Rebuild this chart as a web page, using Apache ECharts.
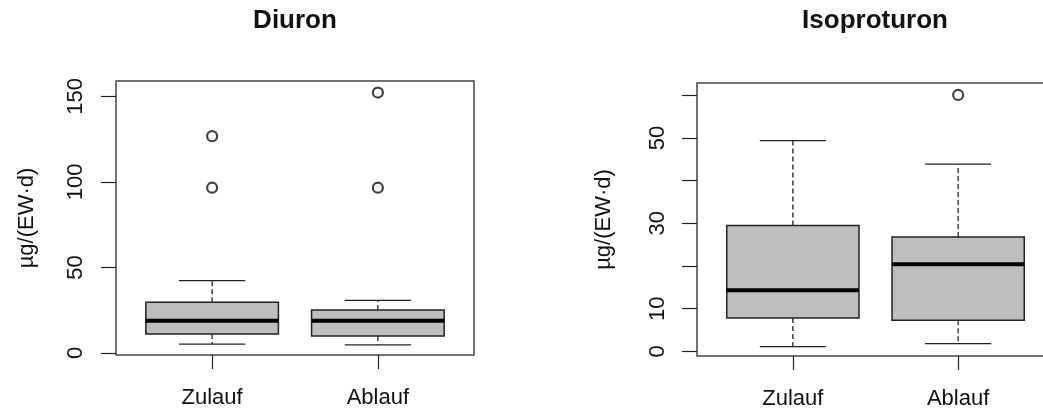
<!DOCTYPE html>
<html>
<head>
<meta charset="utf-8">
<script src="https://cdn.jsdelivr.net/npm/echarts@6.0.0/dist/echarts.min.js"></script>
<style>
  html, body { margin: 0; padding: 0; background: #fff; }
  #chart { width: 1043px; height: 408px; }
</style>
</head>
<body>
<div id="chart"></div>
<script>
// ---------- data ----------
const categories = ['Zulauf', 'Ablauf'];
const panelTitles = ['Diuron', 'Isoproturon'];
const yAxisTitle = 'µg/(EW·d)';

// [lower whisker, Q1, median, Q3, upper whisker]
const diuronZulauf = [5.2, 11.1, 18.8, 29.7, 42.3];
const diuronAblauf = [4.7, 9.9, 18.8, 25.2, 30.7];
const diuronOutZulauf = [126.7, 96.6];
const diuronOutAblauf = [152.2, 96.6];

const isoZulauf = [1.1, 7.8, 14.3, 29.5, 49.4];
const isoAblauf = [1.8, 7.3, 20.4, 26.8, 43.9];
const isoOutZulauf = [];
const isoOutAblauf = [60.1];

const diuronTicks = [0, 50, 100, 150];
const diuronTickLabels = ['0', '50', '100', '150'];
const isoTicks = [0, 10, 20, 30, 40, 50, 60];
const isoTickLabels = ['0', '10', '', '30', '', '50', ''];

// ---------- helpers ----------
const FONT = '"Liberation Sans", Arial, sans-serif';
const INK = '#111';

function boxData(stats) {
  return stats.map((s, i) => [i + 1].concat(s));
}
function outlierData(lists) {
  const out = [];
  lists.forEach((l, i) => l.forEach(v => out.push([i + 1, v])));
  return out;
}

function renderBox(params, api) {
  const x = api.value(0);
  const lo = api.value(1), q1 = api.value(2), med = api.value(3), q3 = api.value(4), hi = api.value(5);
  const hw = 0.4, cw = 0.2;
  const c = (a, b) => api.coord([a, b]);
  const pTL = c(x - hw, q3), pBR = c(x + hw, q1);
  const whisk = { stroke: '#222', lineWidth: 1.3, lineDash: [5, 3] };
  const solid = { stroke: '#222', lineWidth: 1.3 };
  const line = (p1, p2, style) => ({
    type: 'line',
    shape: { x1: p1[0], y1: p1[1], x2: p2[0], y2: p2[1] },
    style: style
  });
  return {
    type: 'group',
    children: [
      line(c(x, q3), c(x, hi), whisk),
      line(c(x, q1), c(x, lo), whisk),
      line(c(x - cw, hi), c(x + cw, hi), solid),
      line(c(x - cw, lo), c(x + cw, lo), solid),
      {
        type: 'rect',
        shape: { x: pTL[0], y: pTL[1], width: pBR[0] - pTL[0], height: pBR[1] - pTL[1] },
        style: { fill: '#bebebe', stroke: '#222', lineWidth: 1.5 }
      },
      line(c(x - hw, med), c(x + hw, med), { stroke: '#000', lineWidth: 4 })
    ]
  };
}

function xAxisFor(gridIndex) {
  return {
    type: 'value', gridIndex: gridIndex, min: 0.42, max: 2.58,
    splitLine: { show: false },
    axisLine: { show: false, onZero: false },
    axisTick: { show: true, customValues: [1, 2], length: 14, lineStyle: { color: '#222', width: 1.2 } },
    axisLabel: {
      customValues: [1, 2], margin: 32,
      formatter: v => categories[Math.round(v) - 1] || '',
      color: INK, fontSize: 22, fontFamily: FONT
    }
  };
}

function yAxisFor(gridIndex, min, max, ticks, labels, labelMargin, nameGap) {
  return {
    type: 'value', gridIndex: gridIndex, min: min, max: max,
    splitLine: { show: false },
    axisLine: { show: false, onZero: false },
    axisTick: { show: true, customValues: ticks, length: 15, lineStyle: { color: '#222', width: 1.2 } },
    axisLabel: {
      customValues: ticks, rotate: 90, margin: labelMargin,
      formatter: v => { const k = ticks.indexOf(Math.round(v)); return k >= 0 ? labels[k] : ''; },
      color: INK, fontSize: 22, fontFamily: FONT
    },
    name: yAxisTitle, nameLocation: 'middle', nameRotate: 90, nameGap: nameGap,
    nameTextStyle: { color: INK, fontSize: 22, fontFamily: FONT }
  };
}

const option = {
  animation: false,
  backgroundColor: '#fff',
  title: [
    { text: panelTitles[0], left: 295, top: 8, textAlign: 'center', padding: 0,
      textStyle: { fontSize: 26, fontWeight: 'bold', color: INK, fontFamily: FONT } },
    { text: panelTitles[1], left: 875, top: 8, textAlign: 'center', padding: 0,
      textStyle: { fontSize: 26, fontWeight: 'bold', color: INK, fontFamily: FONT } }
  ],
  grid: [
    { left: 116, top: 81, width: 358, height: 274, show: true, borderColor: '#444', borderWidth: 1.5,
      backgroundColor: 'transparent', outerBoundsMode: 'none', containLabel: false },
    { left: 697, top: 83, width: 357, height: 273, show: true, borderColor: '#444', borderWidth: 1.5,
      backgroundColor: 'transparent', outerBoundsMode: 'none', containLabel: false }
  ],
  xAxis: [xAxisFor(0), xAxisFor(1)],
  yAxis: [
    yAxisFor(0, -1.17, 158.95, diuronTicks, diuronTickLabels, 29, 78),
    yAxisFor(1, -1.1, 62.9, isoTicks, isoTickLabels, 28, 82)
  ],
  series: [
    { type: 'custom', xAxisIndex: 0, yAxisIndex: 0, renderItem: renderBox,
      data: boxData([diuronZulauf, diuronAblauf]), encode: { x: 0, y: [1, 2, 3, 4, 5] } },
    { type: 'scatter', xAxisIndex: 0, yAxisIndex: 0, symbol: 'circle', symbolSize: 10,
      itemStyle: { color: '#fff', borderColor: '#111', borderWidth: 2.2 },
      data: outlierData([diuronOutZulauf, diuronOutAblauf]) },
    { type: 'custom', xAxisIndex: 1, yAxisIndex: 1, renderItem: renderBox,
      data: boxData([isoZulauf, isoAblauf]), encode: { x: 0, y: [1, 2, 3, 4, 5] } },
    { type: 'scatter', xAxisIndex: 1, yAxisIndex: 1, symbol: 'circle', symbolSize: 10,
      itemStyle: { color: '#fff', borderColor: '#111', borderWidth: 2.2 },
      data: outlierData([isoOutZulauf, isoOutAblauf]) }
  ]
};

const chart = echarts.init(document.getElementById('chart'), null, { renderer: 'canvas' });
chart.setOption(option);
</script>
</body>
</html>
